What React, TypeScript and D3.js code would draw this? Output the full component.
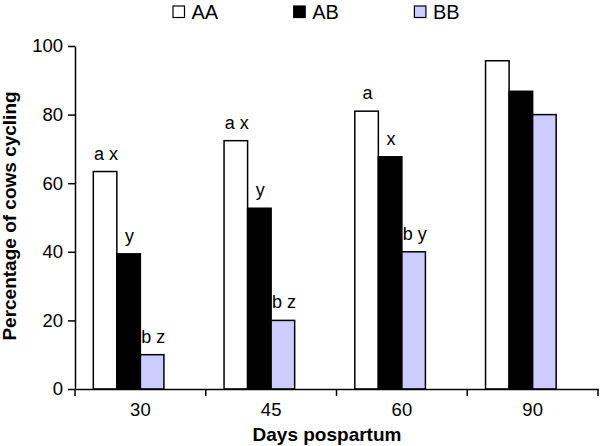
import * as React from 'react';
import * as d3 from 'd3';

const days = ['30', '45', '60', '90'];
const genotypes = ['AA', 'AB', 'BB'];
const aaValues = [63.4, 72.4, 81, 95.7];
const abValues = [39.4, 52.7, 67.7, 86.8];
const bbValues = [10, 20, 40, 80];
const aaLabels = ['a x', 'a x', 'a', ''];
const abLabels = ['y', 'y', 'x', ''];
const bbLabels = ['b z', 'b z', 'b y', ''];
const yTicks = [0, 20, 40, 60, 80, 100];

const fills: Record<string, string> = {AA: '#ffffff', AB: '#000000', BB: '#ccccff'};
const font = 'Liberation Sans, Arial, sans-serif';

export default function App() {
  const ref = React.useRef<SVGSVGElement>(null);

  React.useEffect(() => {
    const svg = d3.select(ref.current);
    svg.selectAll('*').remove();

    const left = 75;
    const right = 598;
    const top = 46;
    const bottom = 389;

    const x0 = d3
      .scaleBand()
      .domain(days)
      .range([left, right])
      .paddingInner(0.28)
      .paddingOuter(0.14);
    // a fourth, empty slot keeps each group off-centre as in the original
    const x1 = d3
      .scaleBand()
      .domain([...genotypes, 'empty'])
      .range([0, x0.bandwidth()]);
    const y = d3.scaleLinear().domain([0, 100]).range([bottom, top]);

    const values: Record<string, number[]> = {AA: aaValues, AB: abValues, BB: bbValues};
    const labels: Record<string, string[]> = {AA: aaLabels, AB: abLabels, BB: bbLabels};

    const rows = days.flatMap((d, i) =>
      genotypes.map(g => ({day: d, key: g, value: values[g][i], label: labels[g][i]}))
    );

    const g = svg.append('g');

    g.selectAll('rect.bar')
      .data(rows)
      .enter()
      .append('rect')
      .attr('class', 'bar')
      .attr('x', d => (x0(d.day) as number) + (x1(d.key) as number))
      .attr('y', d => y(d.value))
      .attr('width', x1.bandwidth())
      .attr('height', d => y(0) - y(d.value))
      .attr('fill', d => fills[d.key])
      .attr('stroke', '#000')
      .attr('stroke-width', 1.5);

    g.selectAll('text.note')
      .data(rows.filter(d => d.label))
      .enter()
      .append('text')
      .attr('class', 'note')
      .attr('x', d => (x0(d.day) as number) + (x1(d.key) as number) + x1.bandwidth() / 2 + 1)
      .attr('y', d => y(d.value) - 12)
      .attr('text-anchor', 'middle')
      .attr('font-family', font)
      .attr('font-size', 18)
      .text(d => d.label);

    // y axis
    const yAxis = g
      .append('g')
      .attr('transform', `translate(${left},0)`)
      .call(d3.axisLeft(y).tickValues(yTicks).tickSize(7).tickSizeOuter(0).tickPadding(5));
    yAxis.select('.domain').attr('stroke', '#000').attr('stroke-width', 1.5);
    yAxis.selectAll('line').attr('stroke', '#000').attr('stroke-width', 1.5);
    yAxis
      .selectAll('text')
      .attr('font-family', font)
      .attr('font-size', 18.5)
      .attr('fill', '#000');

    // x axis: labels at category centres, ticks between categories
    const xAxis = g
      .append('g')
      .attr('transform', `translate(0,${bottom})`)
      .call(d3.axisBottom(x0).tickSize(0).tickSizeOuter(0).tickPadding(14));
    xAxis.select('.domain').attr('stroke', '#000').attr('stroke-width', 1.5);
    xAxis
      .selectAll('text')
      .attr('font-family', font)
      .attr('font-size', 18.5)
      .attr('fill', '#000');
    const step = x0.step();
    const bounds = d3.range(days.length + 1).map(i => left + i * step);
    xAxis
      .selectAll('line.sep')
      .data(bounds)
      .enter()
      .append('line')
      .attr('class', 'sep')
      .attr('x1', d => d)
      .attr('x2', d => d)
      .attr('y1', 0)
      .attr('y2', 7)
      .attr('stroke', '#000')
      .attr('stroke-width', 1.5);

    // axis titles
    svg
      .append('text')
      .attr('transform', `translate(16,216) rotate(-90)`)
      .attr('text-anchor', 'middle')
      .attr('font-family', font)
      .attr('font-size', 19)
      .attr('font-weight', 'bold')
      .text('Percentage of cows cycling');
    svg
      .append('text')
      .attr('x', 327)
      .attr('y', 441)
      .attr('text-anchor', 'middle')
      .attr('font-family', font)
      .attr('font-size', 19)
      .attr('font-weight', 'bold')
      .text('Days pospartum');

    // legend
    const legend = svg
      .selectAll('g.legend')
      .data(genotypes)
      .enter()
      .append('g')
      .attr('class', 'legend')
      .attr('transform', (d, i) => `translate(${173 + i * 120.7},6)`);
    legend
      .append('rect')
      .attr('width', 11.5)
      .attr('height', 11.5)
      .attr('fill', d => fills[d])
      .attr('stroke', '#000')
      .attr('stroke-width', 1.2);
    legend
      .append('text')
      .attr('x', 18.5)
      .attr('y', 12.8)
      .attr('font-family', font)
      .attr('font-size', 20)
      .text(d => d);
  }, []);

  return (
    <svg
      ref={ref}
      width={600}
      height={446}
      style={{position: 'absolute', left: 0, top: 0, background: '#fff'}}
    />
  );
}
